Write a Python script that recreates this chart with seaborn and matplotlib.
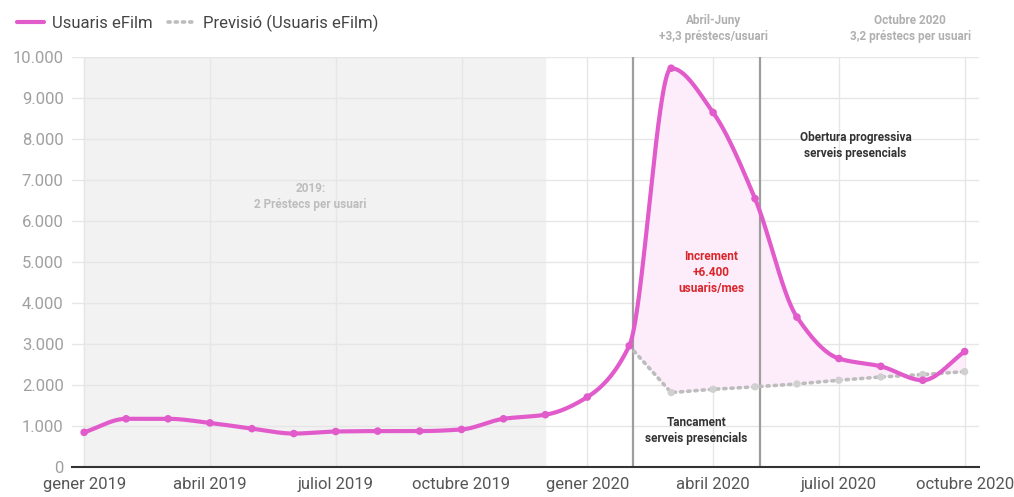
import matplotlib
matplotlib.use("Agg")
import matplotlib.pyplot as plt
from matplotlib.lines import Line2D
import numpy as np
import pandas as pd
import seaborn as sns

# monthly values, gener 2019 .. octubre 2020
months = ["gener 2019", "febrer 2019", "març 2019", "abril 2019", "maig 2019", "juny 2019",
          "juliol 2019", "agost 2019", "setembre 2019", "octubre 2019", "novembre 2019",
          "desembre 2019", "gener 2020", "febrer 2020", "març 2020", "abril 2020",
          "maig 2020", "juny 2020", "juliol 2020", "agost 2020", "setembre 2020",
          "octubre 2020"]
users = [850, 1180, 1180, 1080, 940, 820, 870, 880, 880, 920, 1180, 1280,
         1710, 2960, 9730, 8650, 6550, 3660, 2650, 2460, 2120, 2820]
# forecast starts at febrer 2020
forecast_months = months[13:]
forecast = [2960, 1820, 1900, 1960, 2030, 2120, 2200, 2260, 2330]

tick_labels = ["gener 2019", "abril 2019", "juliol 2019", "octubre 2019",
               "gener 2020", "abril 2020", "juliol 2020", "octubre 2020"]

PINK = "#e15bcb"
GREY_LINE = "#bdbdbd"


def pchip(x, y, xs):
    x = np.asarray(x, float)
    y = np.asarray(y, float)
    h = np.diff(x)
    d = np.diff(y) / h
    m = np.zeros_like(y)
    m[0], m[-1] = d[0], d[-1]
    for k in range(1, len(x) - 1):
        if d[k - 1] * d[k] <= 0:
            m[k] = 0.0
        else:
            w1 = 2 * h[k] + h[k - 1]
            w2 = h[k] + 2 * h[k - 1]
            m[k] = (w1 + w2) / (w1 / d[k - 1] + w2 / d[k])
    idx = np.clip(np.searchsorted(x, xs) - 1, 0, len(x) - 2)
    t = (xs - x[idx]) / h[idx]
    h00 = 2 * t**3 - 3 * t**2 + 1
    h10 = t**3 - 2 * t**2 + t
    h01 = -2 * t**3 + 3 * t**2
    h11 = t**3 - t**2
    return (h00 * y[idx] + h10 * h[idx] * m[idx]
            + h01 * y[idx + 1] + h11 * h[idx] * m[idx + 1])


sns.set_theme(style="white")
plt.rcParams["font.family"] = ["Roboto", "DejaVu Sans"]

df = pd.DataFrame({"mes": months, "usuaris": users})
df["pos"] = range(len(df))
fc = pd.DataFrame({"mes": forecast_months, "previsio": forecast})
fc["pos"] = df.set_index("mes").loc[forecast_months, "pos"].values

fine = np.linspace(0, len(df) - 1, 800)
smooth = pd.DataFrame({"pos": fine, "usuaris": pchip(df["pos"], df["usuaris"], fine)})

fig = plt.figure(figsize=(10.14, 4.97), dpi=100)
ax = fig.add_axes([0.071, 0.06, 0.894, 0.825])

x0 = -0.29
x1 = len(df) - 1 + 0.33
ax.set_xlim(x0, x1)
ax.set_ylim(0, 10000)

# 2019 shaded band
ax.axvspan(0, 11, color="#f2f2f2", zorder=0)

# grid
for yv in range(1000, 10001, 1000):
    ax.axhline(yv, color="#e6e6e6", lw=1, zorder=1)
quarter_pos = [0, 3, 6, 9, 12, 15, 18, 21]
for xv in quarter_pos:
    ax.axvline(xv, color="#e6e6e6", lw=1, zorder=1)

# increment area
mask = fine >= fc["pos"].iloc[0]
fc_interp = np.interp(fine[mask], fc["pos"], fc["previsio"])
ax.fill_between(fine[mask], fc_interp, smooth["usuaris"][mask],
                color="#fdedfb", zorder=2, lw=0)

# period markers
for xv in [13.08, 16.13]:
    ax.axvline(xv, color="#9e9e9e", lw=1.6, zorder=3)

sns.lineplot(data=fc, x="pos", y="previsio", ax=ax, color=GREY_LINE, lw=2.6,
             linestyle=(0, (0.6, 1.4)), dash_capstyle="round", zorder=4)
sns.scatterplot(data=fc.iloc[1:], x="pos", y="previsio", ax=ax, color="#d0d0d0",
                s=28, edgecolor="none", zorder=4)

sns.lineplot(data=smooth, x="pos", y="usuaris", ax=ax, color=PINK, lw=3,
             zorder=5)
sns.scatterplot(data=df, x="pos", y="usuaris", ax=ax, color=PINK, s=30,
                edgecolor="none", zorder=6)

ax.set_xticks(quarter_pos)
ax.set_xticklabels(tick_labels, fontsize=12, color="#555555")
ax.set_yticks(range(0, 10001, 1000))
ax.set_yticklabels([f"{v:,}".replace(",", ".") for v in range(0, 10001, 1000)],
                   fontsize=12, color="#a0a0a0")
ax.tick_params(axis="y", length=0, pad=6)
ax.tick_params(axis="x", length=0, pad=7)
ax.set_xlabel("")
ax.set_ylabel("")
for side in ["top", "right", "left"]:
    ax.spines[side].set_visible(False)
ax.spines["bottom"].set_color("#333333")
ax.spines["bottom"].set_linewidth(1.5)
ax.spines["bottom"].set_zorder(7)

# annotations
ax.text(5.4, 6600, "2019:\n2 Préstecs per usuari", ha="center", va="center",
        fontsize=8.5, fontweight="bold", color="#bdbdbd", linespacing=1.3)
ax.text(15.0, 10700, "Abril-Juny\n+3,3 préstecs/usuari", ha="center", va="center",
        fontsize=8.5, fontweight="bold", color="#b0b0b0", linespacing=1.3,
        clip_on=False)
ax.text(19.7, 10700, "Octubre 2020\n3,2 préstecs per usuari", ha="center", va="center",
        fontsize=8.5, fontweight="bold", color="#b0b0b0", linespacing=1.3,
        clip_on=False)
ax.text(18.4, 7850, "Obertura progressiva\nserveis presencials", ha="center",
        va="center", fontsize=8.5, fontweight="bold", color="#333333",
        linespacing=1.3)
ax.text(14.95, 4750, "Increment\n+6.400\nusuaris/mes", ha="center", va="center",
        fontsize=8.5, fontweight="bold", color="#d9262b", linespacing=1.3)
ax.text(14.6, 900, "Tancament\nserveis presencials", ha="center", va="center",
        fontsize=8.5, fontweight="bold", color="#333333", linespacing=1.3)

handles = [Line2D([], [], color=PINK, lw=3),
           Line2D([], [], color=GREY_LINE, lw=2.6, linestyle=(0, (0.6, 1.4)),
                  dash_capstyle="round")]
fig.legend(handles, ["Usuaris eFilm", "Previsió (Usuaris eFilm)"],
           loc="center left", bbox_to_anchor=(0.002, 0.953), ncol=2,
           frameon=False, fontsize=12, handlelength=1.6, handletextpad=0.5,
           columnspacing=0.9, labelcolor="#444444")

fig.savefig("out.png", dpi=100)
plt.close(fig)
